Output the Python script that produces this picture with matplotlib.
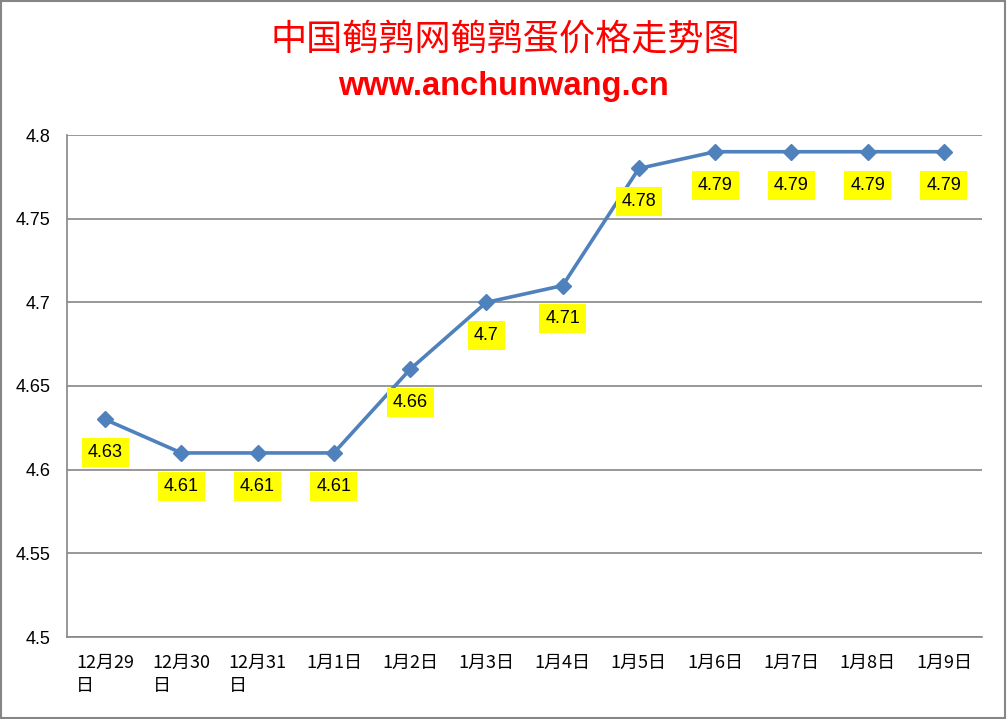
import matplotlib
matplotlib.use("Agg")
import matplotlib.pyplot as plt
from matplotlib.patches import Rectangle

plt.rcParams['font.family'] = ['Noto Sans CJK SC', 'DejaVu Sans']

categories = ["12月29\n日", "12月30\n日", "12月31\n日", "1月1日", "1月2日", "1月3日",
              "1月4日", "1月5日", "1月6日", "1月7日", "1月8日", "1月9日"]
prices = [4.63, 4.61, 4.61, 4.61, 4.66, 4.70, 4.71, 4.78, 4.79, 4.79, 4.79, 4.79]
value_labels = ["4.63", "4.61", "4.61", "4.61", "4.66", "4.7", "4.71", "4.78",
                "4.79", "4.79", "4.79", "4.79"]
yticks = [4.5, 4.55, 4.6, 4.65, 4.7, 4.75, 4.8]
ytick_labels = ["4.5", "4.55", "4.6", "4.65", "4.7", "4.75", "4.8"]

fig = plt.figure(figsize=(10.07, 7.19), dpi=100)
ax = fig.add_axes([67/1007, 1-637/719, (982-67)/1007, (637-135)/719])

x = list(range(len(prices)))
ax.plot(x, prices, color='#4F81BD', linewidth=2.6, marker='D', markersize=8.5,
        markerfacecolor='#4F81BD', markeredgecolor='#4F81BD', zorder=3)

for xi, yi, lab in zip(x, prices, value_labels):
    ax.annotate(lab, (xi, yi), xytext=(0, -24), textcoords='offset points',
                ha='center', va='center', fontsize=13, family=['Liberation Sans', 'DejaVu Sans'],
                color='black', zorder=4,
                bbox=dict(boxstyle='square,pad=0.33', facecolor='#FFFF00', edgecolor='none'))

ax.set_xlim(-0.5, len(prices) - 0.5)
ax.set_ylim(4.5, 4.8)
ax.set_yticks(yticks)
ax.set_yticklabels(ytick_labels, fontsize=13, family=['Liberation Sans', 'DejaVu Sans'])
ax.set_xticks(x)
ax.set_xticklabels(categories, fontsize=13, multialignment='left', linespacing=1.4)
ax.grid(axis='y', color='#868686', linewidth=1.2)
ax.set_axisbelow(True)
for s in ['top', 'right']:
    ax.spines[s].set_visible(False)
ax.spines['left'].set_color('#868686')
ax.spines['bottom'].set_color('#868686')
ax.spines['left'].set_linewidth(1.2)
ax.spines['bottom'].set_linewidth(1.2)
ax.tick_params(axis='y', length=0, pad=12)
ax.tick_params(axis='x', length=0, pad=12)

fig.text(505/1007, 1-40/719, "中国鹌鹑网鹌鹑蛋价格走势图", ha='center', va='center',
         fontsize=26, color='#FF0000')
fig.text(503/1007, 1-87/719, "www.anchunwang.cn", ha='center', va='center',
         fontsize=23.5, color='#FF0000', fontweight='bold', family=['Liberation Sans', 'DejaVu Sans'])

fig.patches.append(Rectangle((0.001, 0.001), 0.997, 0.997, transform=fig.transFigure,
                             fill=False, edgecolor='#868686', linewidth=1.5))

fig.savefig("out.png", dpi=100)
